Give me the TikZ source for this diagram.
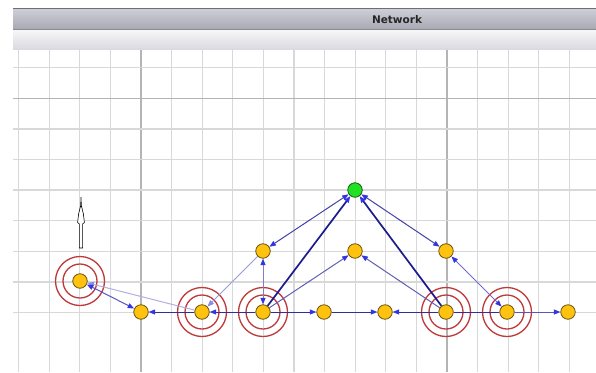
\documentclass[tikz,border=0pt]{standalone}
\usepackage{fontspec}
\newfontfamily\hdrfont{DejaVu Sans}
\usetikzlibrary{arrows.meta}
\definecolor{nodeY}{HTML}{FFC20E}
\definecolor{nodeYd}{HTML}{6B5510}
\definecolor{nodeG}{HTML}{22E022}
\definecolor{nodeGd}{HTML}{1E5A1E}
\definecolor{ringred}{HTML}{BE3A3A}
\definecolor{gridmin}{HTML}{D8D8D8}
\definecolor{gridmaj}{HTML}{B4B4B4}
\definecolor{hdrtop}{HTML}{CDCED6}
\definecolor{hdrbot}{HTML}{A8A9B4}
\definecolor{hdrline}{HTML}{6E6E74}
\definecolor{subtop}{HTML}{F6F6F8}
\definecolor{subbot}{HTML}{DADAE0}
\definecolor{edark}{HTML}{1C1C8E}
\definecolor{emid}{HTML}{4444A8}
\definecolor{ehor}{HTML}{2E2E9E}
\definecolor{elight}{HTML}{B0B0E2}
\definecolor{elight2}{HTML}{9A9AD8}
\definecolor{epurp}{HTML}{7E7EC0}
\definecolor{eab}{HTML}{5656C0}
\definecolor{ekl}{HTML}{6E6ED0}
\definecolor{tipblue}{HTML}{3535E0}
\definecolor{tiplight}{HTML}{8A8AE4}
\pgfdeclarelayer{bg}
\pgfdeclarelayer{mid}
\pgfsetlayers{bg,mid,main}
\tikzset{
  ynode/.style={circle,minimum size=14.5pt,inner sep=0pt,fill=nodeY,draw=nodeYd,line width=0.8pt},
  gnode/.style={circle,minimum size=14.5pt,inner sep=0pt,fill=nodeG,draw=nodeGd,line width=0.8pt},
  ringline/.style={draw=ringred,line width=1.3pt},
  gridline/.style={draw=gridmin,line width=1.3pt},
  gridmajor/.style={draw=gridmaj,line width=1.3pt},
  tipA/.tip={Triangle[length=6.5pt,width=5pt,color=tipblue]},
  tipL/.tip={Triangle[length=6.5pt,width=5pt,color=tiplight]},
  edgedark/.style={draw=edark,line width=1.7pt,-tipA},
  edgemid/.style={draw=emid,line width=1pt},
  edgehor/.style={draw=ehor,line width=1pt},
}
\begin{document}
\begin{tikzpicture}[x=1pt,y=-1pt]
\useasboundingbox (0,0) rectangle (596,372);
% nodes
\node[ynode] (A) at (80,281) {};
\node[ynode] (B) at (141,312) {};
\node[ynode] (C) at (202,312) {};
\node[ynode] (D) at (263,312) {};
\node[ynode] (E) at (263,251) {};
\node[gnode] (F) at (355,190) {};
\node[ynode] (G) at (355,251) {};
\node[ynode] (H) at (324,312) {};
\node[ynode] (I) at (385,312) {};
\node[ynode] (J) at (446,312) {};
\node[ynode] (K) at (446,251) {};
\node[ynode] (L) at (507,312) {};
\node[ynode] (M) at (568,312) {};
\node[font=\hdrfont\bfseries\fontsize{10.5}{12}\selectfont,text=black!85,inner sep=0pt] (title) at (397,19.5) {Network};
\begin{pgfonlayer}{bg}
\fill[white] (0,0) rectangle (596,372);
\foreach \i in {0,...,18}{
  \pgfmathsetmacro{\xx}{18.6+30.6*\i}
  \ifnum\i=4 \draw[gridmajor] (\xx,49) -- (\xx,372);
  \else\ifnum\i=14 \draw[gridmajor] (\xx,49) -- (\xx,372);
  \else \draw[gridline] (\xx,49) -- (\xx,372);\fi\fi
}
\foreach \j in {0,...,8}{
  \pgfmathsetmacro{\yy}{67.7+30.6*\j}
  \ifnum\j=1 \draw[gridmajor] (13,\yy) -- (596,\yy);
  \else \draw[gridline] (13,\yy) -- (596,\yy);\fi
}
\shade[top color=hdrtop,bottom color=hdrbot] (13,9) rectangle (596,29);
\fill[hdrline] (13,7.8) rectangle (596,9.2);
\fill[hdrline!80] (13,28.8) rectangle (596,30);
\shade[top color=subtop,bottom color=subbot] (13,30) rectangle (596,49);
\end{pgfonlayer}
\begin{pgfonlayer}{mid}
\foreach \n in {A,C,D,J,L}{
  \draw[ringline] (\n.center) circle[radius=24.5pt];
  \draw[ringline] (\n.center) circle[radius=17pt];
}
% edges
\draw[draw=elight,line width=1pt,-tipL] (C) -- (A);
\draw[draw=eab,line width=1pt,tipA-tipA] (A) -- (B);
\draw[edgehor,-tipA] (C) -- (B);
\draw[edgehor,-tipA] (D) -- (C);
\draw[draw=elight2,line width=1pt,-tipL] (E) -- (C);
\draw[draw=epurp,line width=1pt,tipA-tipA] (D) -- (E);
\draw[edgemid,tipA-tipA] (F) -- (E);
\draw[edgedark] (D) -- (F);
\draw[edgemid,draw=emid!85,-tipA] (D) -- (G);
\draw[edgemid,draw=emid!85,-tipA] (J) -- (G);
\draw[edgedark] (J) -- (F);
\draw[edgemid,tipA-tipA] (F) -- (K);
\draw[edgehor,-tipA] (D) -- (H);
\draw[edgehor,-tipA] (H) -- (I);
\draw[edgehor,-tipA] (J) -- (I);
\draw[edgehor] (J) -- (L);
\draw[draw=ekl,line width=1pt,tipA-tipA] (K) -- (L);
\draw[draw=eab,line width=1pt,-tipA] (L) -- (M);
\end{pgfonlayer}
% hollow arrow above A
\draw[black,fill=white,line width=0.6pt] (79.4,248) -- (79.4,224) -- (77.6,222.5) -- (78.6,214) -- (80.4,206.5) -- (81.6,206.5) -- (83.4,214) -- (84.4,222.5) -- (82.6,224) -- (82.6,248) -- cycle;
\fill[black] (80.3,207) -- (80.7,197) -- (81.3,197) -- (81.7,207) -- cycle;
\end{tikzpicture}
\end{document}
